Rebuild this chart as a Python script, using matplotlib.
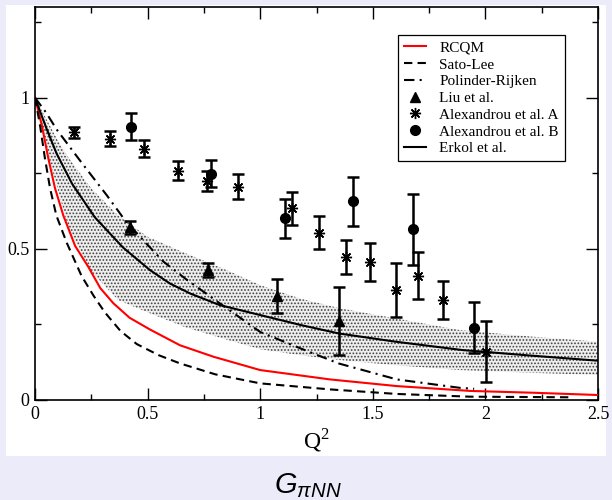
import matplotlib
matplotlib.use('Agg')
import matplotlib.pyplot as plt
from matplotlib.patches import Rectangle
from matplotlib.ticker import MultipleLocator, FuncFormatter

plt.rcParams['font.family'] = ['Liberation Serif', 'DejaVu Serif']
plt.rcParams['mathtext.fontset'] = 'custom'
plt.rcParams['mathtext.rm'] = 'Liberation Serif'
plt.rcParams['mathtext.it'] = 'Liberation Sans:italic'
plt.rcParams['hatch.linewidth'] = 0.8

# model curves (Q^2, G_piNN)
rcqm_x = [0, 0.03, 0.059, 0.089, 0.126, 0.178, 0.237, 0.29, 0.348, 0.42, 0.511, 0.644, 0.793, 1.0, 1.311, 1.607, 1.933, 2.213, 2.5]
rcqm_y = [1, 0.91, 0.80, 0.70, 0.61, 0.51, 0.44, 0.37, 0.32, 0.272, 0.233, 0.181, 0.143, 0.099, 0.068, 0.046, 0.030, 0.024, 0.0165]

sato_x = [0, 0.022, 0.044, 0.067, 0.095, 0.141, 0.207, 0.26, 0.31, 0.38, 0.452, 0.55, 0.644, 0.8, 1.0, 1.311, 1.607, 1.93, 2.37]
sato_y = [1, 0.91, 0.80, 0.70, 0.61, 0.52, 0.41, 0.345, 0.29, 0.228, 0.185, 0.148, 0.121, 0.085, 0.055, 0.035, 0.020, 0.011, 0.009]

polinder_x = [0, 0.05, 0.096, 0.207, 0.319, 0.4, 0.489, 0.57, 0.67, 0.822, 1.0, 1.178, 1.348, 1.607, 1.889, 1.95]
polinder_y = [1, 0.95, 0.895, 0.785, 0.677, 0.594, 0.522, 0.458, 0.40, 0.319, 0.225, 0.171, 0.121, 0.068, 0.040, 0.037]

erkol_x = [0, 0.05, 0.096, 0.165, 0.265, 0.39, 0.51, 0.6, 0.69, 0.82, 1.0, 1.18, 1.35, 1.6, 1.9, 2.2, 2.5]
erkol_y = [1, 0.90, 0.815, 0.715, 0.605, 0.505, 0.43, 0.385, 0.352, 0.314, 0.281, 0.248, 0.22, 0.193, 0.165, 0.147, 0.13]

band_x = [0, 0.05, 0.1, 0.15, 0.25, 0.37, 0.5, 0.67, 0.85, 1.0, 1.18, 1.356, 1.6, 1.889, 2.2, 2.5]
band_hi = [1, 0.93, 0.86, 0.80, 0.70, 0.61, 0.54, 0.485, 0.43, 0.38, 0.335, 0.303, 0.27, 0.231, 0.21, 0.193]
band_lo = [1, 0.83, 0.70, 0.565, 0.425, 0.33, 0.29, 0.24, 0.20, 0.168, 0.148, 0.132, 0.115, 0.099, 0.09, 0.083]

# lattice data
liu_x = [0.42, 0.77, 1.075, 1.352]
liu_y = [0.571, 0.429, 0.344, 0.262]
liu_err = [0.021, 0.023, 0.056, 0.112]

alexA_x = [0.173, 0.333, 0.484, 0.634, 0.763, 0.902, 1.142, 1.262, 1.382, 1.489, 1.603, 1.699, 1.812, 2.003]
alexA_y = [0.886, 0.864, 0.831, 0.759, 0.726, 0.706, 0.634, 0.554, 0.472, 0.455, 0.363, 0.411, 0.330, 0.160]
alexA_err = [0.018, 0.025, 0.028, 0.031, 0.033, 0.041, 0.055, 0.056, 0.056, 0.063, 0.089, 0.078, 0.063, 0.10]

alexB_x = [0.425, 0.782, 1.111, 1.413, 1.68, 1.951]
alexB_y = [0.904, 0.749, 0.601, 0.657, 0.564, 0.239]
alexB_err = [0.045, 0.044, 0.064, 0.08, 0.118, 0.084]


def draw_plot():
    fig = plt.figure(figsize=(6.12, 5.0), dpi=100, facecolor='#ebebfa')
    fig.add_artist(Rectangle((6 / 612, 44 / 500), 600 / 612, 451 / 500,
                             transform=fig.transFigure, facecolor='white',
                             edgecolor='none', zorder=-1))
    ax = fig.add_axes([35 / 612, 100 / 500, 563 / 612, 393 / 500])

    ax.fill_between(band_x, band_lo, band_hi, facecolor='#eeeeee',
                    edgecolor='#404040', hatch='.....', linewidth=0, zorder=1)

    ax.plot(rcqm_x, rcqm_y, color='red', lw=1.5, label='RCQM', zorder=3)
    ax.plot(sato_x, sato_y, color='black', lw=1.5, ls=(0, (4, 2.5)),
            label='Sato-Lee', zorder=3)
    ax.plot(polinder_x, polinder_y, color='black', lw=1.5,
            ls=(0, (5, 2.5, 1, 2.5)), label='Polinder-Rijken', zorder=3)

    eb = dict(fmt='none', ecolor='black', elinewidth=1.8, capsize=4,
              capthick=1.8, zorder=4)
    ax.errorbar(liu_x, liu_y, yerr=liu_err, **eb)
    ax.errorbar(alexA_x, alexA_y, yerr=alexA_err, **eb)
    ax.errorbar(alexB_x, alexB_y, yerr=alexB_err, **eb)

    ax.plot(liu_x, liu_y, ls='none', marker='^', ms=7, color='black',
            label='Liu et al.', zorder=5)
    ax.plot(alexA_x, alexA_y, ls='none', marker=(8, 2, 0), ms=8, mew=1,
            color='black', label='Alexandrou et al. A', zorder=5)
    ax.plot(alexB_x, alexB_y, ls='none', marker='o', ms=7, color='black',
            label='Alexandrou et al. B', zorder=5)
    ax.plot(erkol_x, erkol_y, color='black', lw=1.5, label='Erkol et al.',
            zorder=3)

    ax.set_xlim(0, 2.5)
    ax.set_ylim(0, 1.3)
    ax.xaxis.set_major_locator(MultipleLocator(0.5))
    ax.xaxis.set_minor_locator(MultipleLocator(0.25))
    ax.yaxis.set_major_locator(MultipleLocator(0.5))
    ax.yaxis.set_minor_locator(MultipleLocator(0.25))
    fmt = FuncFormatter(lambda v, p: '%g' % v)
    ax.xaxis.set_major_formatter(fmt)
    ax.yaxis.set_major_formatter(fmt)
    ax.tick_params(which='both', direction='in', top=True, right=True, width=1)
    ax.tick_params(which='major', length=8.5, labelsize=13, pad=4)
    ax.tick_params(which='minor', length=4)
    for s in ax.spines.values():
        s.set_linewidth(1.2)

    leg = ax.legend(loc='upper right', bbox_to_anchor=(0.9414, 0.9288),
                    fontsize=11, frameon=True, fancybox=False, framealpha=1,
                    edgecolor='black', borderpad=0.4, borderaxespad=0,
                    labelspacing=0.2, handlelength=1.45, handletextpad=0.85)
    leg.get_frame().set_linewidth(0.9)

    fig.text(316.5 / 612, 52 / 500, r'Q$^{2}$', fontsize=17,
             ha='center', va='baseline')
    fig.text(308 / 612, 7 / 500, r'$G_{\pi NN}$', fontsize=21,
             ha='center', va='baseline')

    fig.savefig('out.png', dpi=100, facecolor=fig.get_facecolor())


def main():
    draw_plot()


if __name__ == '__main__':
    main()
